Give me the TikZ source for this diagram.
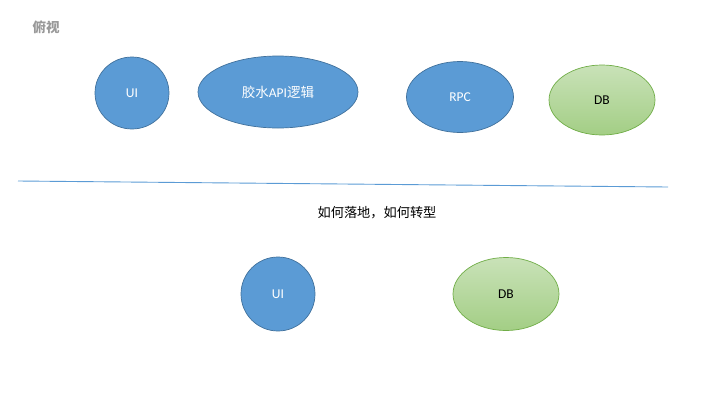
\documentclass[tikz,border=0pt]{standalone}
\usepackage{fontspec}
\setmainfont{Carlito}
\newfontfamily\cjk{Noto Sans CJK SC}
\usetikzlibrary{positioning, shapes.geometric}
\definecolor{figblue}{HTML}{5B9BD5}
\definecolor{figbluedark}{HTML}{41719C}
\definecolor{figgreen}{HTML}{70AD47}
\definecolor{figgreentop}{HTML}{C9E2B8}
\definecolor{figgreenbot}{HTML}{A3CE85}
\definecolor{figgray}{HTML}{999999}
\tikzset{
  figblob/.style={ellipse, inner sep=0pt, line width=0.7pt, font=\fontsize{13.5}{16}\selectfont},
  sblue/.style={figblob, fill=figblue, draw=figbluedark, text=white},
  sgreen/.style={figblob, top color=figgreentop, bottom color=figgreenbot, draw=figgreen, text=black},
  figlabel/.style={font=\cjk\fontsize{13.2}{16}\selectfont, text=black},
  figline/.style={figblue, line width=0.9pt},
}

\begin{document}
\begin{tikzpicture}[x=1pt, y=-1pt]
  \useasboundingbox (0,0) rectangle (720,405);
  \node[font=\cjk\bfseries\fontsize{13.5}{16}\selectfont, text=figgray] (title) at (46,27) {俯视};
  % top row
  \node[sblue, minimum width=74pt, minimum height=72pt] (uitop) at (132,93) {UI};
  \node[sblue, minimum width=160pt, minimum height=72pt] (glue) at (278,92) {{\cjk 胶水}API{\cjk 逻辑}};
  \node[sblue, minimum width=107pt, minimum height=71pt] (rpc) at (460,97) {RPC};
  \node[sgreen, minimum width=106pt, minimum height=70pt] (dbtop) at (602,100) {DB};
  % divider
  \coordinate (lineL) at (18,181);
  \coordinate (lineR) at (668,187);
  \draw[figline] (lineL) -- (lineR);
  \node[figlabel] (question) at (377,213) {如何落地，如何转型};
  % bottom row
  \node[sblue, minimum width=74pt, minimum height=74pt] (uibot) at (278,294) {UI};
  \node[sgreen, minimum width=106pt, minimum height=73pt] (dbbot) at (506,294) {DB};
\end{tikzpicture}
\end{document}
